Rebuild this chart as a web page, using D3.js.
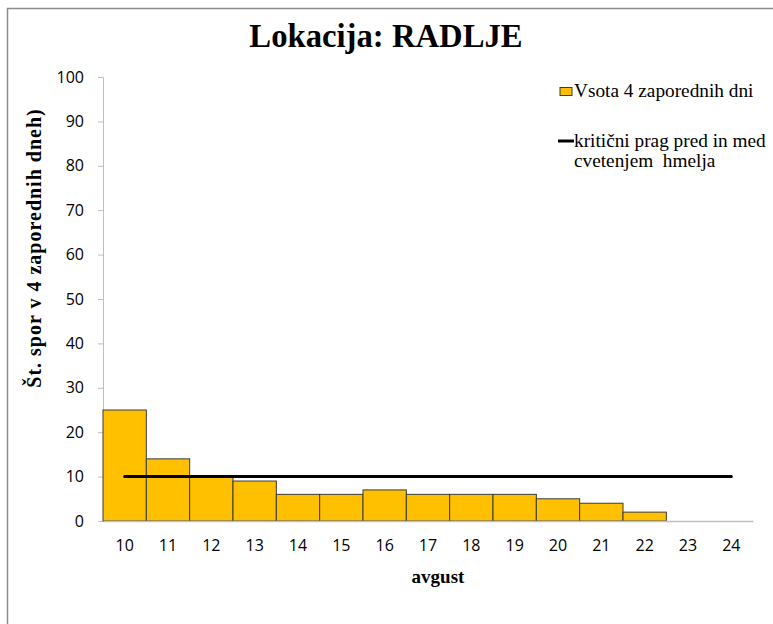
<!DOCTYPE html>
<html>
<head>
<meta charset="utf-8">
<script src="https://cdn.jsdelivr.net/npm/d3@7"></script>
<style>
  body { margin: 0; background: #fff; }
  .serif { font-family: "Liberation Serif", "Times New Roman", serif; }
  .sans { font-family: "Open Sans", "Noto Sans", sans-serif; }
</style>
</head>
<body>
<svg width="773" height="624"></svg>
<script>
// chart data
var days = ["10", "11", "12", "13", "14", "15", "16", "17", "18", "19", "20", "21", "22", "23", "24"];
var sums = [25, 14, 10, 9, 6, 6, 7, 6, 6, 6, 5, 4, 2, 0, 0];
var threshold = [10, 10, 10, 10, 10, 10, 10, 10, 10, 10, 10, 10, 10, 10, 10];
var yTicks = [0, 10, 20, 30, 40, 50, 60, 70, 80, 90, 100];

var svg = d3.select("svg");

// outer frame (cropped on right/bottom)
svg.append("rect")
    .attr("x", 7.5).attr("y", 8.5)
    .attr("width", 800).attr("height", 700)
    .attr("fill", "none")
    .attr("stroke", "#8c8c8c")
    .attr("stroke-width", 1.5);

var plotLeft = 103, plotTop = 77, plotRight = 753, plotBottom = 521;

var xScale = d3.scaleBand().domain(days).range([plotLeft, plotRight]).padding(0);
var yScale = d3.scaleLinear().domain([0, 100]).range([plotBottom, plotTop]);

// title
svg.append("text")
    .attr("class", "serif")
    .attr("x", 386).attr("y", 47)
    .attr("text-anchor", "middle")
    .attr("font-weight", "bold")
    .attr("font-size", 32.7)
    .text("Lokacija: RADLJE");

// y axis
var yAxis = svg.append("g")
    .attr("transform", "translate(" + plotLeft + ",0)")
    .call(d3.axisLeft(yScale).tickValues(yTicks).tickSize(5).tickPadding(14));
yAxis.attr("font-family", null).attr("font-size", null);
yAxis.selectAll("line, path").attr("stroke", "#bfbfbf");
yAxis.selectAll("text")
    .attr("class", "sans")
    .attr("font-size", 16)
    .attr("fill", "#000");

// bars
svg.append("g")
    .selectAll("rect")
    .data(sums)
    .enter()
    .append("rect")
    .attr("x", function (d, i) { return xScale(days[i]); })
    .attr("y", function (d) { return yScale(d); })
    .attr("width", xScale.bandwidth())
    .attr("height", function (d) { return plotBottom - yScale(d); })
    .attr("fill", function (d) { return d > 0 ? "#ffc000" : "none"; })
    .attr("stroke", function (d) { return d > 0 ? "#3a3a3a" : "none"; })
    .attr("stroke-width", 1);

// x axis
var xAxis = svg.append("g")
    .attr("transform", "translate(0," + plotBottom + ")")
    .call(d3.axisBottom(xScale).tickSize(0).tickPadding(19));
xAxis.attr("font-family", null).attr("font-size", null);
xAxis.selectAll("path").attr("stroke", "#bfbfbf").attr("stroke-width", 1.5);
xAxis.selectAll("text")
    .attr("class", "sans")
    .attr("font-size", 16)
    .attr("fill", "#000");

// threshold line
var line = d3.line()
    .x(function (d, i) { return xScale(days[i]) + xScale.bandwidth() / 2; })
    .y(function (d) { return yScale(d); });
svg.append("path")
    .datum(threshold)
    .attr("d", line)
    .attr("fill", "none")
    .attr("stroke", "#000")
    .attr("stroke-width", 3)
    .attr("stroke-linecap", "round");

// axis titles
svg.append("text")
    .attr("class", "serif")
    .attr("transform", "translate(41,248) rotate(-90)")
    .attr("text-anchor", "middle")
    .attr("font-weight", "bold")
    .attr("font-size", 20)
    .attr("letter-spacing", 1)
    .text("Št. spor v 4 zaporednih dneh)");

svg.append("text")
    .attr("class", "serif")
    .attr("x", 438).attr("y", 583)
    .attr("text-anchor", "middle")
    .attr("font-weight", "bold")
    .attr("font-size", 19)
    .text("avgust");

// legend
var lg = svg.append("g")
    .attr("class", "serif")
    .attr("font-size", 19.3);
lg.append("rect")
    .attr("x", 560).attr("y", 87.5).attr("width", 12).attr("height", 8)
    .attr("fill", "#ffc000").attr("stroke", "#3a3a3a");
lg.append("text").attr("x", 574).attr("y", 97).text("Vsota 4 zaporednih dni");
lg.append("line")
    .attr("x1", 558).attr("x2", 574).attr("y1", 141).attr("y2", 141)
    .attr("stroke", "#000").attr("stroke-width", 3);
lg.append("text").attr("x", 574).attr("y", 147).text("kritični prag pred in med");
lg.append("text").attr("x", 574).attr("y", 167).attr("xml:space", "preserve").text("cvetenjem  hmelja");
</script>
</body>
</html>
